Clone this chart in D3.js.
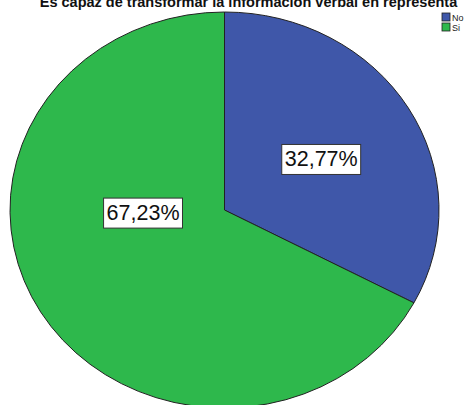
<!DOCTYPE html>
<html>
<head>
<meta charset="utf-8">
<script src="https://cdn.jsdelivr.net/npm/d3@7"></script>
<style>
  html, body { margin: 0; padding: 0; background: #fff; }
  svg { display: block; }
</style>
</head>
<body>
<svg id="chart" width="467" height="405"></svg>
<script>
// Response categories and their shares (%)
const categories = ["No", "Si"];
const percentages = [32.77, 67.23];
const sliceColors = ["#3f57a9", "#2eb84c"];
const titleText = "Es capaz de transformar la información verbal en representa";

const width = 467, height = 405;
const cx = 224.5, cy = 210;
const rx = 214.5, ry = 198;

const svg = d3.select("#chart");

const color = d3.scaleOrdinal().domain(categories).range(sliceColors);

const data = categories.map((c, i) => ({ cat: c, value: percentages[i] }));

const pie = d3.pie().sort(null).value(d => d.value);
const arcs = pie(data);

const arc = d3.arc().innerRadius(0).outerRadius(rx);

// Pie drawn in a circle of radius rx and squashed vertically to an ellipse
const pieG = svg.append("g")
  .attr("transform", `translate(${cx},${cy}) scale(1,${ry / rx})`);

pieG.selectAll("path")
  .data(arcs)
  .join("path")
  .attr("d", arc)
  .attr("fill", d => color(d.data.cat))
  .attr("stroke", "#222")
  .attr("stroke-width", 1)
  .attr("vector-effect", "non-scaling-stroke");

// Value labels: placed along each slice's bisector (angle nudge, radius fraction)
const labelPlacement = { No: { dAngle: 0.02, frac: 0.52 }, Si: { dAngle: 0.51, frac: 0.38 } };
const fmt = v => v.toFixed(2).replace(".", ",") + "%";

const labelG = svg.append("g");
arcs.forEach(d => {
  const p = labelPlacement[d.data.cat];
  const a = (d.startAngle + d.endAngle) / 2 + p.dAngle;
  const x = cx + rx * p.frac * Math.sin(a);
  const y = cy - ry * p.frac * Math.cos(a);
  const g = labelG.append("g").attr("transform", `translate(${x},${y})`);
  const t = g.append("text")
    .attr("text-anchor", "middle")
    .attr("dy", "0.36em")
    .attr("font-family", "Liberation Sans, Arial, sans-serif")
    .attr("font-size", 21.5)
    .attr("fill", "#111")
    .text(fmt(d.data.value));
  const bb = t.node().getBBox();
  g.insert("rect", "text")
    .attr("x", bb.x - 3)
    .attr("y", bb.y - 3)
    .attr("width", bb.width + 6)
    .attr("height", bb.height + 6)
    .attr("fill", "#fff")
    .attr("stroke", "#333")
    .attr("stroke-width", 1);
});

// Title (runs off the top edge)
svg.append("text")
  .attr("x", 248.5)
  .attr("y", 7)
  .attr("text-anchor", "middle")
  .attr("font-family", "Liberation Sans, Arial, sans-serif")
  .attr("font-weight", "bold")
  .attr("font-size", 14.5)
  .attr("fill", "#111")
  .text(titleText);

// Legend
const legend = svg.append("g").attr("transform", "translate(442,13)");
const item = legend.selectAll("g")
  .data(categories)
  .join("g")
  .attr("transform", (d, i) => `translate(0,${i * 10})`);
item.append("rect")
  .attr("width", 8)
  .attr("height", 8)
  .attr("fill", d => color(d))
  .attr("stroke", "#222")
  .attr("stroke-width", 0.8);
item.append("text")
  .attr("x", 10)
  .attr("y", 7.5)
  .attr("font-family", "Liberation Sans, Arial, sans-serif")
  .attr("font-size", 9)
  .attr("fill", "#222")
  .text(d => d);
</script>
</body>
</html>
